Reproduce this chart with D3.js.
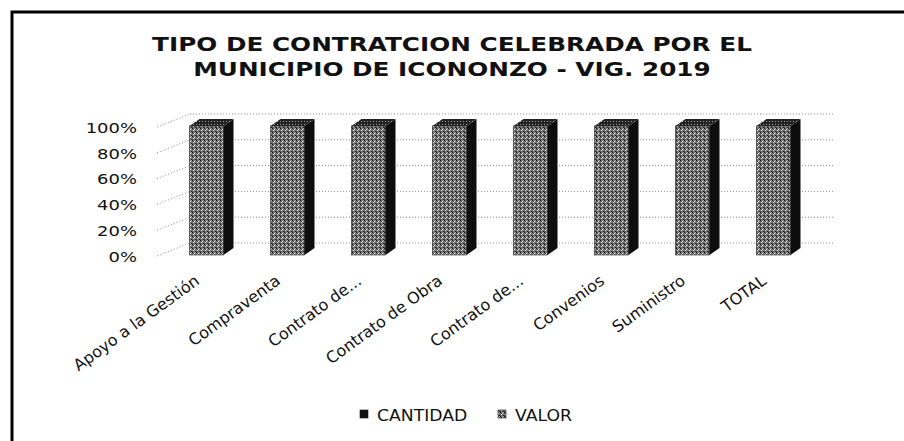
<!DOCTYPE html>
<html>
<head>
<meta charset="utf-8">
<script src="https://cdn.jsdelivr.net/npm/d3@7"></script>
<style>
  body { margin: 0; background: #fff; }
  text { font-family: "DejaVu Sans", sans-serif; fill: #111; }
</style>
</head>
<body>
<div id="chart"></div>
<script>
// tick labels as shown on the chart (long names are cut by the chart itself)
var categories = ["Apoyo a la Gestión", "Compraventa", "Contrato de...", "Contrato de Obra",
  "Contrato de...", "Convenios", "Suministro", "TOTAL"];
var seriesNames = ["CANTIDAD", "VALOR"];
// counts are tiny next to peso amounts, so CANTIDAD is invisible in a 100% stack
var cantidad = [160, 6, 3, 12, 20, 8, 15, 224];
var valor = [1500000000, 120000000, 90000000, 2400000000, 300000000, 450000000, 350000000, 5210000000];
var yTicks = [0, 0.2, 0.4, 0.6, 0.8, 1];

var width = 904, height = 441;
var sx = 1.33; // scan is stretched sideways, text follows it

var svg = d3.select("#chart").append("svg")
  .attr("width", width)
  .attr("height", height);

var defs = svg.append("defs");

// dithered grey like the scanned bars
var pat = defs.append("pattern")
  .attr("id", "dither")
  .attr("width", 4).attr("height", 4)
  .attr("patternUnits", "userSpaceOnUse");
pat.append("rect").attr("width", 4).attr("height", 4).attr("fill", "#777");
[[0, 0, "#111"], [2, 1, "#eee"], [1, 2, "#ddd"], [3, 3, "#222"], [3, 0, "#aaa"], [0, 3, "#444"], [1, 1, "#333"]]
  .forEach(function (p) {
    pat.append("rect").attr("x", p[0]).attr("y", p[1]).attr("width", 1).attr("height", 1).attr("fill", p[2]);
  });

var patTop = defs.append("pattern")
  .attr("id", "ditherDark")
  .attr("width", 3).attr("height", 3)
  .attr("patternUnits", "userSpaceOnUse");
patTop.append("rect").attr("width", 3).attr("height", 3).attr("fill", "#222");
patTop.append("rect").attr("x", 1).attr("y", 1).attr("width", 1).attr("height", 1).attr("fill", "#999");

// frame
svg.append("path")
  .attr("d", "M12," + height + "V12H" + width)
  .attr("fill", "none")
  .attr("stroke", "#000")
  .attr("stroke-width", 3);

// title
var title = svg.append("g").attr("font-size", 18.6);
[["TIPO DE CONTRATCION CELEBRADA POR EL", 51], ["MUNICIPIO DE ICONONZO - VIG. 2019", 76]].forEach(function (t) {
  title.append("text")
    .attr("transform", "translate(452," + t[1] + ") scale(" + sx + ",1)")
    .attr("text-anchor", "middle")
    .style("font-weight", "bold")
    .text(t[0]);
});

// data -> 100% stack
var table = categories.map(function (c, i) {
  return { cat: c, i: i, CANTIDAD: cantidad[i], VALOR: valor[i] };
});
var stacked = d3.stack()
  .keys(seriesNames)
  .offset(d3.stackOffsetExpand)(table);

var x = d3.scaleBand()
  .domain(d3.range(categories.length))
  .range([166, 814])
  .paddingInner(0.58)
  .paddingOuter(0.29);

var y = d3.scaleLinear().domain([0, 1]).range([256, 127]);
var wall = { dx: 33, dy: -13 };   // depth of the side wall
var bar = { dx: 10, dy: -7 };     // depth of each column

// walls: dotted gridlines on the back and on the side
var grid = svg.append("g")
  .attr("stroke", "#8c8c8c")
  .attr("stroke-width", 1)
  .attr("stroke-dasharray", "1,2")
  .attr("fill", "none");

grid.selectAll(".back").data(yTicks).enter().append("line")
  .attr("x1", 157 + wall.dx).attr("x2", 833)
  .attr("y1", function (d) { return y(d) + wall.dy; })
  .attr("y2", function (d) { return y(d) + wall.dy; });

grid.selectAll(".side").data(yTicks).enter().append("line")
  .attr("x1", 157).attr("x2", 157 + wall.dx)
  .attr("y1", function (d) { return y(d); })
  .attr("y2", function (d) { return y(d) + wall.dy; });

// y labels
svg.append("g").selectAll("text").data(yTicks).enter().append("text")
  .attr("transform", function (d) { return "translate(137," + (y(d) + 1) + ") scale(" + sx + ",1)"; })
  .attr("text-anchor", "end")
  .attr("dy", "0.35em")
  .attr("font-size", 13.5)
  .text(d3.format(".0%"));

// columns
var colours = { CANTIDAD: "#111", VALOR: "url(#dither)" };
var bars = svg.append("g");
stacked.forEach(function (s) {
  s.forEach(function (d, i) {
    var x0 = x(i), w = x.bandwidth();
    var yb = y(d[0]) - 1, yt = y(d[1]) - 1;
    if (yb - yt < 0.05) return;
    var g = bars.append("g");
    g.append("rect")
      .attr("x", x0).attr("y", yt)
      .attr("width", w).attr("height", yb - yt)
      .attr("fill", colours[s.key])
      .attr("stroke", "#222").attr("stroke-width", 0.6);
    g.append("path")
      .attr("d", "M" + (x0 + w) + "," + yt + "l" + bar.dx + "," + bar.dy +
        "V" + (yb + bar.dy) + "L" + (x0 + w) + "," + yb + "Z")
      .attr("fill", "#0d0d0d");
    g.append("path")
      .attr("d", "M" + x0 + "," + yt + "l" + bar.dx + "," + bar.dy +
        "h" + w + "L" + (x0 + w) + "," + yt + "Z")
      .attr("fill", "url(#ditherDark)");
  });
});

// category labels
svg.append("g").selectAll("text").data(categories).enter().append("text")
  .attr("transform", function (d, i) {
    return "translate(" + (x(i) + x.bandwidth() / 2 - 6) + ",283) rotate(-36)";
  })
  .attr("text-anchor", "end")
  .attr("font-size", 16)
  .text(function (d) { return d; });

// legend
var legend = svg.append("g");
var legendX = [360, 498];
seriesNames.forEach(function (n, i) {
  legend.append("rect")
    .attr("x", legendX[i]).attr("y", 410)
    .attr("width", 8).attr("height", 8)
    .attr("fill", i === 0 ? "#111" : "url(#dither)")
    .attr("stroke", "#111").attr("stroke-width", 0.6);
  legend.append("text")
    .attr("transform", "translate(" + (legendX[i] + 17) + ",421) scale(1.15,1)")
    .attr("font-size", 15)
    .text(n);
});
</script>
</body>
</html>
